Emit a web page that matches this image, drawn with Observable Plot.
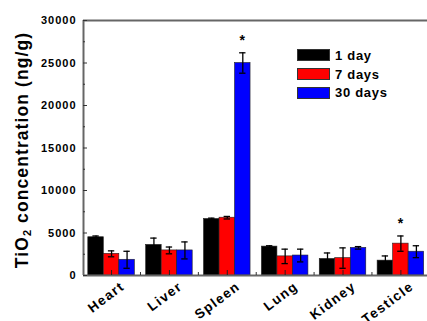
<!DOCTYPE html>
<html><head><meta charset="utf-8">
<script src="https://cdn.jsdelivr.net/npm/d3@7"></script>
<script src="https://cdn.jsdelivr.net/npm/@observablehq/plot@0.6"></script>
<style>
body{margin:0;background:#fff;}
#wrap{position:relative;width:427px;height:321px;font-family:"Liberation Sans",Arial,sans-serif;font-weight:bold;color:#000;overflow:hidden;}
#wrap svg{position:absolute;left:0;top:0;}
#wrap svg text{letter-spacing:1px;}
#wrap svg g.xlab text{letter-spacing:1.4px;}
#ylab{position:absolute;left:22px;top:150px;transform:translate(-50%,-50%) rotate(-90deg);white-space:nowrap;font-size:17.5px;letter-spacing:1.1px;}
#ylab sub{font-size:11px;vertical-align:-3px;line-height:0;}
#legend{position:absolute;left:297px;top:46px;font-size:13px;letter-spacing:0.7px;}
.row{display:flex;align-items:center;height:18.7px;}
.sw{width:33px;height:12px;border:0.6px solid #333;margin-right:5px;box-sizing:border-box;}
</style></head><body><div id="wrap"></div>
<script>
const organs = ["Heart","Liver","Spleen","Lung","Kidney","Testicle"];
const series = ["1 day","7 days","30 days"];
const colors = ["#000000","#ff0000","#0000ff"];
const day1 = [4500, 3600, 6650, 3400, 1950, 1750];
const day1Err = [150, 800, 100, 100, 700, 550];
const day7 = [2550, 2950, 6800, 2250, 2050, 3750];
const day7Err = [350, 400, 150, 850, 1200, 900];
const day30 = [1850, 2950, 25000, 2350, 3250, 2800];
const day30Err = [1000, 1000, 1200, 750, 150, 700];
const yTicks = [0, 5000, 10000, 15000, 20000, 25000, 30000];
const yMinor = [2500, 7500, 12500, 17500, 22500, 27500];
const significant = [["Spleen","30 days"],["Testicle","7 days"]];

const vals = [day1, day7, day30];
const errs = [day1Err, day7Err, day30Err];
const rows = [];
organs.forEach((o,i)=>series.forEach((s,j)=>rows.push({organ:o, gi:i, si:j, series:s, value:vals[j][i], err:errs[j][i]})));
const stars = rows.filter(d => significant.some(([o,s]) => o===d.organ && s===d.series));

const bw = 0.268, cap = 0.055;
const xmin = -0.485, xmax = 5.46;
const cx = d => d.gi + (d.si-1)*bw;
const axisColor = "#666";

const plot = Plot.plot({
  width:427, height:321, marginLeft:83, marginRight:0, marginTop:20, marginBottom:46,
  style:{fontFamily:'"Liberation Sans",Arial,sans-serif', fontWeight:"bold", background:"transparent", overflow:"visible"},
  x:{domain:[xmin,xmax], axis:null},
  y:{domain:[0,30000], axis:null},
  color:{domain:series, range:colors},
  marks:[
    Plot.rect(rows,{x1:d=>cx(d)-bw/2, x2:d=>cx(d)+bw/2, y1:0, y2:"value", fill:"series", stroke:"#222", strokeWidth:0.6}),
    Plot.ruleX(rows,{x:cx, y1:d=>d.value-d.err, y2:d=>d.value+d.err, stroke:"#000", strokeWidth:1.3}),
    Plot.ruleY(rows,{x1:d=>cx(d)-cap, x2:d=>cx(d)+cap, y:d=>d.value+d.err, stroke:"#000", strokeWidth:1.3}),
    Plot.ruleY(rows,{x1:d=>cx(d)-cap, x2:d=>cx(d)+cap, y:d=>d.value-d.err, stroke:"#000", strokeWidth:1.3}),
    Plot.text(stars,{x:cx, y:d=>d.value+d.err, text:()=>"*", dy:-12, fontSize:14, fill:"#000"}),
    Plot.ruleX([xmin],{stroke:axisColor, strokeWidth:2}),
    Plot.ruleY([0, 30000],{stroke:axisColor, strokeWidth:2}),
    Plot.axisY({ticks:yTicks, tickFormat:d=>String(d), tickSize:-4, tickPadding:11, fontSize:11, stroke:"#333", fill:"#000", label:null}),
    Plot.axisY({ticks:yMinor, tickFormat:()=>"", tickSize:-2, stroke:"#333", label:null}),
    Plot.axisX({ticks:organs.map((_,i)=>i), tickFormat:()=>"", tickSize:-5, stroke:"#222", label:null}),
    Plot.axisX({ticks:organs.slice(1).map((_,i)=>i+0.5), tickFormat:()=>"", tickSize:-3, stroke:"#333", label:null}),
    Plot.text(organs,{x:(d,i)=>i, frameAnchor:"bottom", text:d=>d, rotate:-37, textAnchor:"end", lineAnchor:"top", dx:8, dy:5, fontSize:13.5, fill:"#000", className:"xlab"})
  ]
});
const wrap = document.getElementById("wrap");
wrap.appendChild(plot);

const ylab = document.createElement("div");
ylab.id = "ylab";
ylab.innerHTML = "TiO<sub>2</sub> concentration (ng/g)";
wrap.appendChild(ylab);

const legend = document.createElement("div");
legend.id = "legend";
series.forEach((s,i)=>{
  const r = document.createElement("div"); r.className="row";
  const sw = document.createElement("div"); sw.className="sw"; sw.style.background = colors[i];
  const t = document.createElement("span"); t.textContent = s;
  r.appendChild(sw); r.appendChild(t); legend.appendChild(r);
});
wrap.appendChild(legend);
</script></body></html>
